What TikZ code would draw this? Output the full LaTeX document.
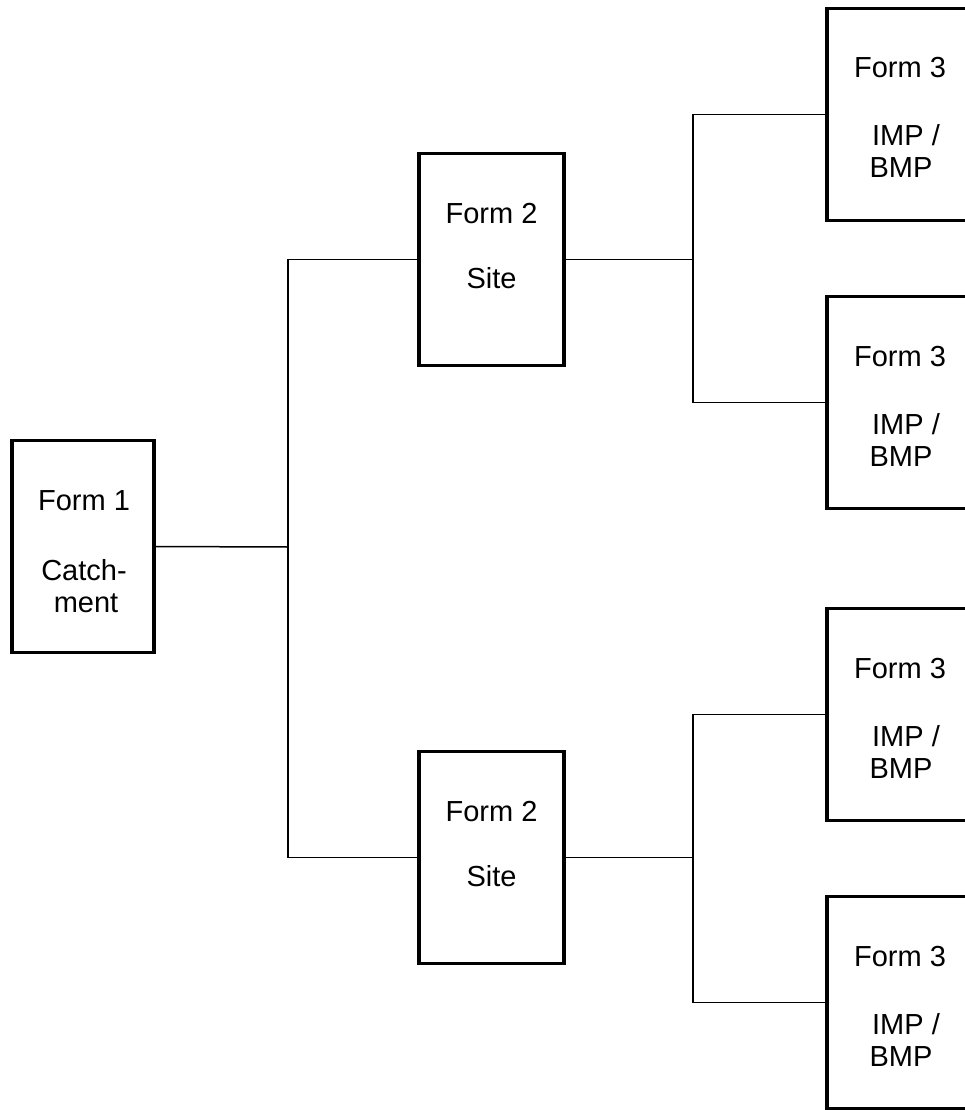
\documentclass[tikz,border=0pt]{standalone}
\usepackage{fontspec}
\setmainfont{Liberation Sans}
\begin{document}
\begin{tikzpicture}[x=1pt,y=-1pt,
  box/.style={draw=black,line width=3.5pt,fill=white,minimum width=142pt,minimum height=212pt,inner sep=0pt,outer sep=0pt},
  wbox/.style={box,minimum width=145pt},
  lbl/.style={font=\fontsize{29}{32}\selectfont,inner sep=0pt,anchor=base},
  conn/.style={draw=black,line width=1.5pt}]
\useasboundingbox (0,0) rectangle (964,1110);
% boxes
\node[box] (f1) at (83,546.5) {};
\node[wbox] (f2a) at (491.5,259.5) {};
\node[wbox] (f2b) at (491.5,857.5) {};
\node[wbox] (f3a) at (899.5,114.5) {};
\node[wbox] (f3b) at (899.5,402.5) {};
\node[wbox] (f3c) at (899.5,714.5) {};
\node[wbox] (f3d) at (899.5,1002.5) {};
% labels
\node[lbl] (t1a) at (84,510.5) {Form 1};
\node[lbl] (t1b) at (84,580) {Catch-};
\node[lbl] (t1c) at (86,612) {ment};
\node[lbl] (t2a) at (491.5,223) {Form 2};
\node[lbl] (t2b) at (491.5,288) {Site};
\node[lbl] (t2c) at (491.5,821) {Form 2};
\node[lbl] (t2d) at (491.5,886) {Site};
\foreach \n/\c in {a/114.5,b/402.5,c/714.5,d/1002.5}{
  \node[lbl] (t3\n1) at (900,\c-36.5) {Form 3};
  \node[lbl] (t3\n2) at (906,\c+31.5) {IMP /};
  \node[lbl] (t3\n3) at (901,\c+63.5) {BMP};
}
% connectors
\coordinate (j1) at (288,547);
\coordinate (j2) at (693,259.5);
\coordinate (j3) at (693,857.5);
\draw[conn] (f1.east) -- (j1);
\draw[conn] (f2a.west) -| (j1) |- (f2b.west);
\draw[conn] (f2a.east) -- (j2);
\draw[conn] (f3a.west) -| (j2) |- (f3b.west);
\draw[conn] (f2b.east) -- (j3);
\draw[conn] (f3c.west) -| (j3) |- (f3d.west);
\end{tikzpicture}
\end{document}
